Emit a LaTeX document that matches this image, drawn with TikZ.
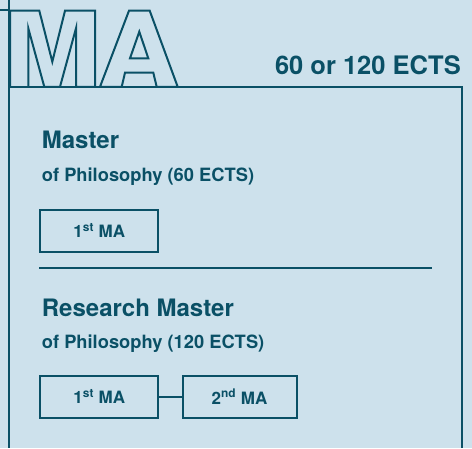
\documentclass[tikz,border=0pt]{standalone}
\usepackage{fontspec}
\setmainfont{TeX Gyre Heros}
\usepackage{tikz}
\usetikzlibrary{calc}

\definecolor{bgblue}{RGB}{205,225,236}
\definecolor{darkteal}{RGB}{10,80,102}

\tikzset{
    frameline/.style={darkteal, line width=2pt},
    mabox/.style={draw=darkteal, line width=2pt, minimum height=42pt, font=\fontsize{17}{20}\selectfont\bfseries, text=darkteal, inner sep=0pt},
    title/.style={anchor=base west, inner sep=0pt, text=darkteal, font=\fontsize{24}{28}\selectfont\bfseries},
    subtitle/.style={anchor=base west, inner sep=0pt, text=darkteal, font=\fontsize{18.3}{22}\selectfont\bfseries}
}

\begin{document}
\begin{tikzpicture}[x=1pt, y=-1pt]

        \useasboundingbox (0,0) rectangle (472,448);
        \fill[bgblue] (0,0) rectangle (472,448);

        \coordinate (O) at (9.3,0);

        \draw[frameline] (0,10) -- (9.3,10);
        \draw[frameline] (O) -- (9.3,448) coordinate(bottomleft);
        \draw[frameline] (9.3,86.8) coordinate(topleft) -- (461.5,86.8) coordinate(topright) -- (461.5,448) coordinate(bottomright);

        % big outlined letters
        \draw[frameline, line join=miter] (10,86.8) -- (10,10.7) -- (39.3,10.7) -- (52.3,61.7) -- (65,10.7) -- (95,10.7) -- (95,86.8) -- (76,86.8) -- (76,28.3) -- (60,86.8) -- (44.3,86.8) -- (28.3,28.3) -- (28.3,86.8);
        \draw[frameline, line join=miter] (100,86.8) -- (129,10.7) -- (149.7,10.7) -- (177.7,86.8) -- (156.7,86.8) -- (153.3,72.7) -- (125,72.7) -- (121.7,86.8) -- cycle;
        \draw[frameline, line join=miter] (139.3,31.7) -- (148.3,58.3) -- (130,58.3) -- cycle;

        \node[anchor=base east, inner sep=0pt, text=darkteal, font=\fontsize{25.5}{30}\selectfont\bfseries] (ects) at (461,74) {60 or 120 ECTS};

        \node[title] (master) at (41.7,148.3) {Master};
        \node[subtitle] (phil) at (41.7,181) {of Philosophy (60 ECTS)};
        \node[mabox, minimum width=118pt] (first) at (99.3,230.5) {1\textsuperscript{st} MA};

        \draw[frameline] (39.3,268.3) coordinate(divl) -- (432.3,268.3) coordinate(divr);

        \node[title] (research) at (41.7,316) {Research Master};
        \node[subtitle] (rphil) at (41.7,348.3) {of Philosophy (120 ECTS)};
        \node[mabox, minimum width=118pt] (rfirst) at (99.3,396.7) {1\textsuperscript{st} MA};
        \node[mabox, minimum width=114pt] (rsecond) at (239.5,396.7) {2\textsuperscript{nd} MA};

        \draw[frameline] (rfirst) -- (rsecond);

    \end{tikzpicture}
\end{document}
